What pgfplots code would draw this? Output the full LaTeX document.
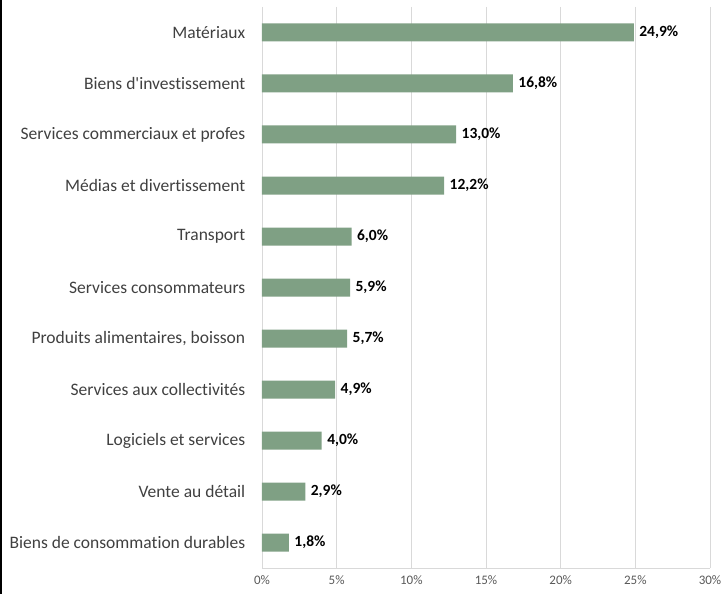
\documentclass[border=0pt]{standalone}
\usepackage{pgfplots}
\pgfplotsset{compat=1.18}
\usepackage{fontspec}
\setmainfont{Carlito}[Ligatures={NoCommon}]

\definecolor{barcol}{RGB}{127,160,132}
\definecolor{gridcol}{RGB}{217,217,217}
\definecolor{labcol}{RGB}{64,64,64}
\definecolor{tickcol}{RGB}{89,89,89}

\begin{document}
\begin{tikzpicture}
\useasboundingbox (0,0) rectangle (721pt,594pt);
\draw[black, line width=2pt] (1pt,0) -- (1pt,594pt);
\begin{axis}[
    at={(262pt,26pt)}, anchor=south west,
    scale only axis,
    width=448pt, height=561pt,
    xmin=0, xmax=30,
    ymin=-0.5, ymax=10.5,
    y dir=reverse,
    xtick={0,5,...,30},
    xticklabel={\pgfmathprintnumber{\tick}\%},
    /pgf/number format/assume math mode=true,
    ytick={0,...,10},
    yticklabels={Matériaux, Biens d\textquotesingle investissement, Services commerciaux et profes,
        Médias et divertissement, Transport, Services consommateurs,
        {Produits alimentaires, boisson}, Services aux collectivités,
        Logiciels et services, Vente au détail, Biens de consommation durables},
    xmajorgrids,
    grid style={gridcol, line width=0.8pt},
    axis x line*=bottom,
    axis y line*=left,
    axis line style={gridcol, line width=0.8pt},
    tick style={draw=none},
    x tick label style={font=\fontsize{13}{15}\selectfont, text=tickcol},
    xticklabel shift=4pt,
    y tick label style={font=\fontsize{17.5}{20}\selectfont, text=labcol},
    yticklabel shift=9pt,
    xbar, bar width=18pt,
    nodes near coords,
    point meta=explicit symbolic,
    every node near coord/.append style={font=\bfseries\fontsize{15.5}{18}\selectfont, text=black, anchor=west, xshift=2pt},
]
\addplot[fill=barcol, draw=none] coordinates {
    (24.9,0) [24,9\%]
    (16.8,1) [16,8\%]
    (13.0,2) [13,0\%]
    (12.2,3) [12,2\%]
    (6.0,4) [6,0\%]
    (5.9,5) [5,9\%]
    (5.7,6) [5,7\%]
    (4.9,7) [4,9\%]
    (4.0,8) [4,0\%]
    (2.9,9) [2,9\%]
    (1.8,10) [1,8\%]
};
\end{axis}
\end{tikzpicture}
\end{document}
